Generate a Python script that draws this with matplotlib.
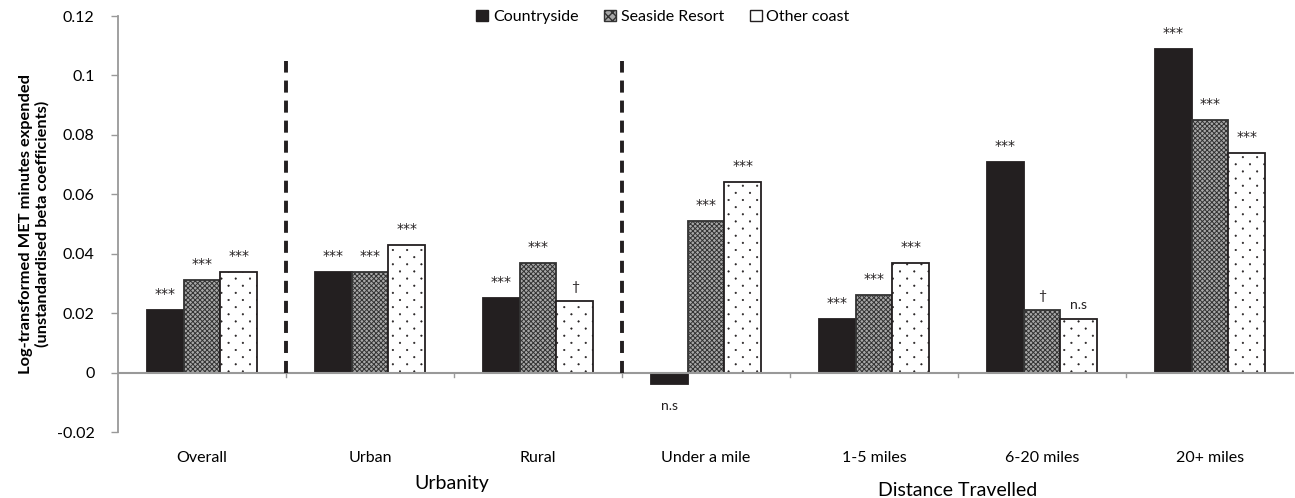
import matplotlib
matplotlib.use("Agg")
import matplotlib.pyplot as plt
import matplotlib.hatch as mhatch
from matplotlib.path import Path
import numpy as np
from matplotlib.patches import Patch

categories = ["Overall", "Urban", "Rural", "Under a mile", "1-5 miles", "6-20 miles", "20+ miles"]
series_names = ["Countryside", "Seaside Resort", "Other coast"]
countryside = [0.021, 0.034, 0.025, -0.004, 0.018, 0.071, 0.109]
seaside = [0.031, 0.034, 0.037, 0.051, 0.026, 0.021, 0.085]
other_coast = [0.034, 0.043, 0.024, 0.064, 0.037, 0.018, 0.074]
sig_countryside = ["***", "***", "***", "n.s", "***", "***", "***"]
sig_seaside = ["***", "***", "***", "***", "***", "\u2020", "***"]
sig_other = ["***", "***", "\u2020", "***", "***", "n.s", "***"]
yticks = [-0.02, 0, 0.02, 0.04, 0.06, 0.08, 0.1, 0.12]
ytick_labels = ["-0.02", "0", "0.02", "0.04", "0.06", "0.08", "0.1", "0.12"]


# Sparse staggered dot texture (like the Excel "dotted" fill)
class SparseDots(mhatch.HatchPatternBase):
    rows = 14
    cols = 7
    radius = 0.0075

    def __init__(self, hatch, density):
        circ = Path.unit_circle()
        self.shape_vertices = circ.vertices * self.radius
        self.shape_codes = circ.codes
        if hatch.count('.') == 0:
            self.num_vertices = 0
        else:
            n_shapes = (self.rows // 2 + 1) * (self.cols + 1) + (self.rows // 2) * self.cols
            self.num_vertices = n_shapes * len(self.shape_vertices)

    def set_vertices_and_codes(self, vertices, codes):
        vp, cp = [], []
        for r in range(self.rows + 1):
            if r % 2 == 0:
                cs = np.linspace(0, 1, self.cols + 1)
            else:
                cs = (np.arange(self.cols) + 0.5) / self.cols
            for c in cs:
                vp.append(self.shape_vertices + [c, r / self.rows])
                cp.append(self.shape_codes)
        np.concatenate(vp, out=vertices)
        np.concatenate(cp, out=codes)


mhatch._hatch_types = [SparseDots if t is mhatch.SmallFilledCircles else t
                       for t in mhatch._hatch_types]

plt.rcParams['font.family'] = ['Lato', 'DejaVu Sans']

fig = plt.figure(figsize=(12.95, 4.98), dpi=100)
ax = fig.add_axes([118/1295, 1-432/498, (1294-118)/1295, (432-16)/498])

x = np.arange(len(categories))
w = 0.22
styles = [
    dict(color="#231f20", edgecolor="#231f20", hatch=None, hlw=1.0),
    dict(color="#a8a8a8", edgecolor="#333333", hatch="xxxxxxx", hlw=0.7),
    dict(color="white", edgecolor="#231f20", hatch=".", hlw=0.4),
]
all_vals = [countryside, seaside, other_coast]
all_sig = [sig_countryside, sig_seaside, sig_other]
handles = []
for i, (vals, st, sig) in enumerate(zip(all_vals, styles, all_sig)):
    with plt.rc_context({'hatch.linewidth': st["hlw"]}):
        bars = ax.bar(x + (i - 1) * w, vals, width=w, facecolor=st["color"],
                      edgecolor=st["edgecolor"], hatch=st["hatch"], linewidth=1.3, zorder=2)
        handles.append(Patch(facecolor=st["color"], edgecolor=st["edgecolor"],
                             hatch=("xxxx" if st["hatch"] == "xxxxxxx" else None), linewidth=1.0))
    for b, v, s in zip(bars, vals, sig):
        cx = b.get_x() + b.get_width() / 2
        if s == "***":
            fam, fs, off = ['DejaVu Sans'], 10, 6.5
        else:
            fam, fs, off = ['Lato', 'DejaVu Sans'], 10, 6
        if v >= 0:
            ax.annotate(s, (cx, v), xytext=(0, off), textcoords="offset points",
                        ha="center", va="bottom", fontsize=fs, family=fam, color="#231f20")
        else:
            ax.annotate(s, (cx, v), xytext=(0, -11), textcoords="offset points",
                        ha="center", va="top", fontsize=fs, family=fam, color="#231f20")

ax.set_xlim(-0.5, 6.5)
ax.set_ylim(-0.02, 0.12)
ax.set_yticks(yticks)
ax.set_yticklabels(ytick_labels, fontsize=11.5)
ax.set_xticks(x)
ax.set_xticklabels(categories, fontsize=11.5)
ax.tick_params(axis="x", length=0, pad=14)
ax.tick_params(axis="y", length=5, color="#999999", width=1.0, pad=12)
for sp in ["top", "right", "bottom"]:
    ax.spines[sp].set_visible(False)
ax.spines["left"].set_color("#999999")
ax.spines["left"].set_linewidth(1.3)
ax.axhline(0, color="#999999", linewidth=1.5, zorder=3)
for b in np.arange(0.5, 6.5, 1.0):
    ax.plot([b, b], [0, -0.0015], color="#999999", linewidth=1.0, zorder=3)

for b in [0.5, 2.5]:
    ax.plot([b, b], [0, 0.105], color="#231f20", linewidth=2.8, linestyle=(0, (3.1, 2.05)), zorder=3)

ax.set_ylabel("Log-transformed MET minutes expended\n(unstandardised beta coefficients)",
              fontsize=11.8, fontweight="bold", labelpad=5)

fig.text(452/1295, 1-483/498, "Urbanity", ha="center", va="center", fontsize=14)
fig.text(958/1295, 1-490/498, "Distance Travelled", ha="center", va="center", fontsize=14)

fig.legend(handles, series_names, loc="center", bbox_to_anchor=(663/1295, 1-17/498), ncol=3,
           frameon=False, fontsize=11.5, handlelength=0.75, handleheight=0.75,
           handletextpad=0.3, columnspacing=1.6)

fig.savefig("out.png", dpi=100)
